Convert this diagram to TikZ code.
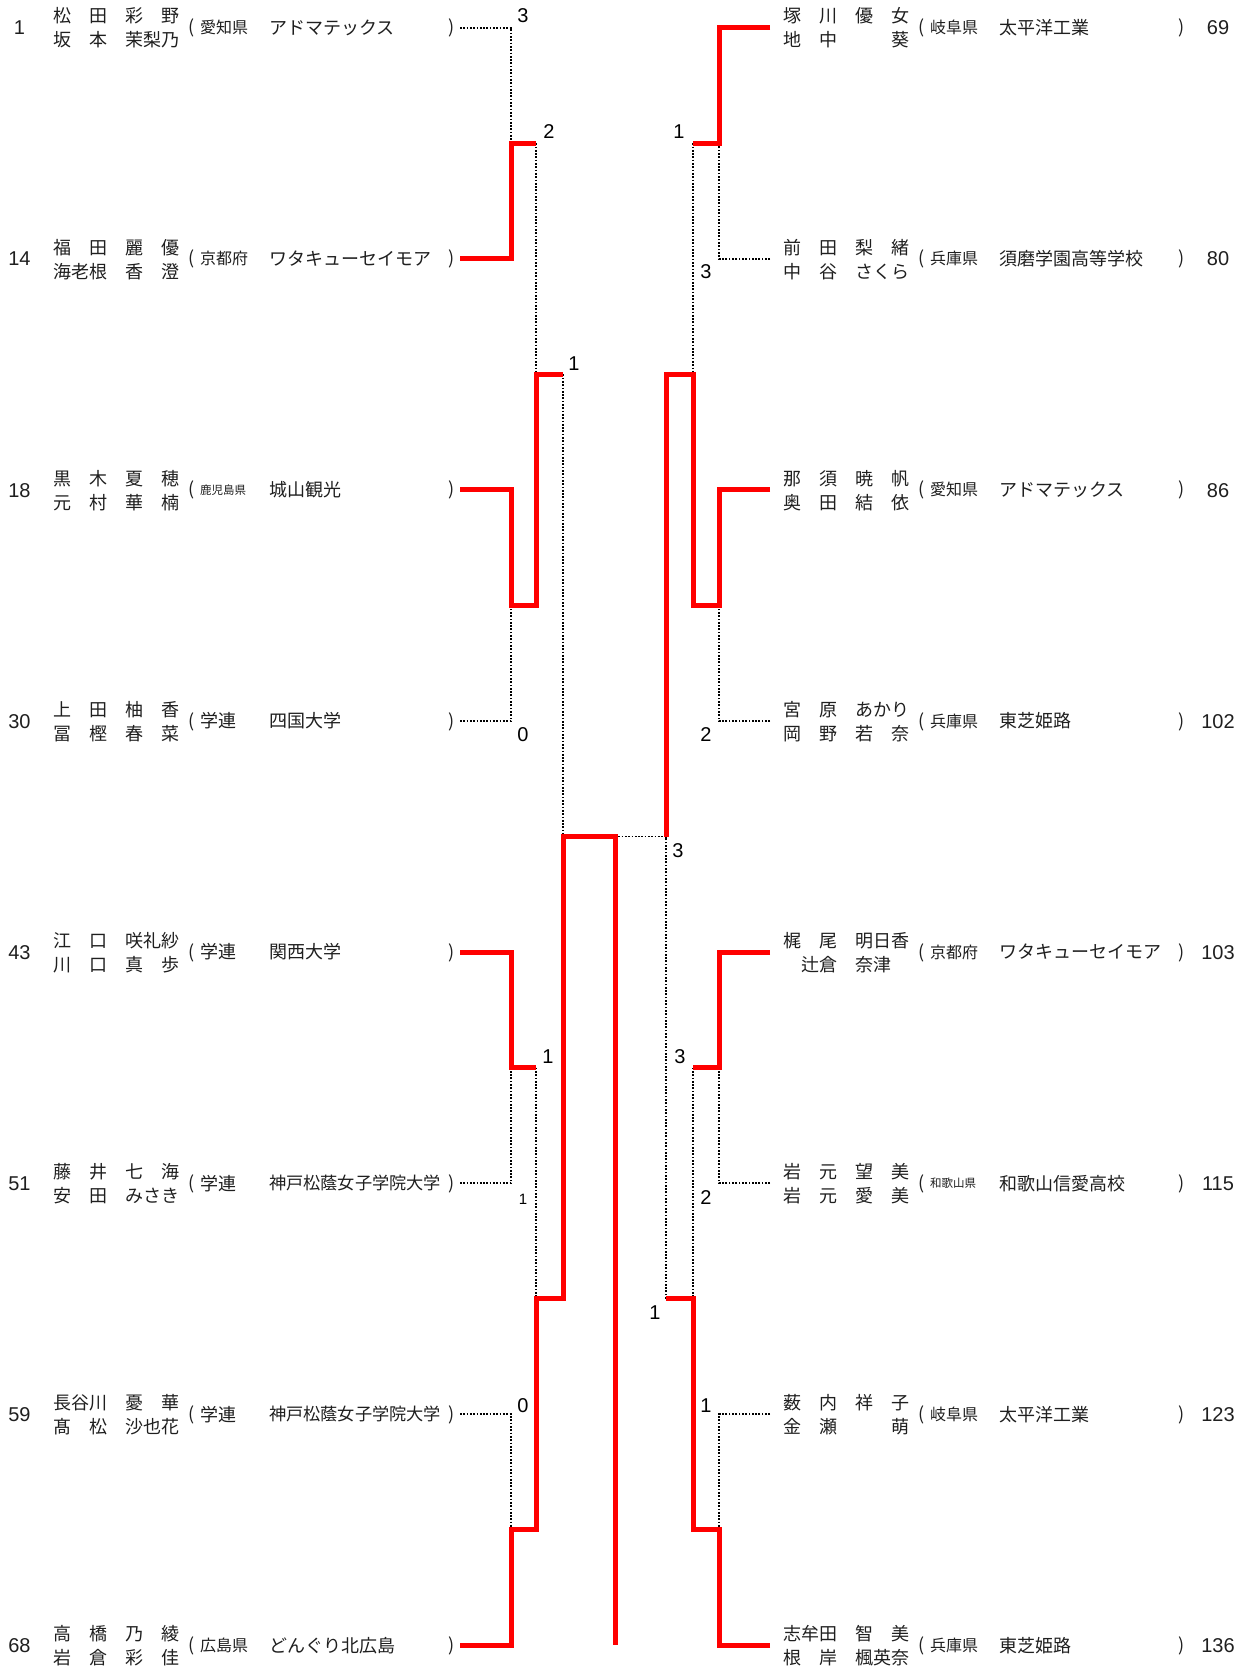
\documentclass[tikz,border=0pt]{standalone}
\usepackage{fontspec}
\newfontfamily\jp{Noto Sans CJK JP}
\newfontfamily\ar{Liberation Sans}
\newcommand\fs[1]{\fontsize{#1}{#1}\selectfont}
\tikzset{
 txt/.style={inner sep=0pt, outer sep=0pt, text=black!88},
 nm/.style={txt, anchor=base west, font=\jp\fs{18}},
 sc/.style={inner sep=0pt, outer sep=0pt, anchor=base, font=\ar\fs{20}},
 scs/.style={inner sep=0pt, outer sep=0pt, anchor=base, font=\ar\fs{15}},
 win/.style={draw=red, line width=5pt, line join=miter},
 los/.style={draw=black, line width=1.7pt, dash pattern=on 1.7pt off 1.6pt},
}
% #1 id, #2 x offset, #3 row y, #4 number x, #5 number, #6 line1, #7 line2, #8 pref size, #9 pref
\newcommand\ent[9]{%
 \node[txt,anchor=base,font=\ar\fs{20}] (#1num) at (#4,{#3+7.2}) {#5};
 \node[nm] (#1na) at ({#2+53},{#3-4.7}) {#6};
 \node[nm] (#1nb) at ({#2+53},{#3+19.3}) {#7};
 \node[txt,anchor=base,font=\jp\fs{18}] (#1po) at ({#2+192},{#3+6}) {(};
 \node[txt,anchor=base west,font=\jp\fs{#8}] (#1pr) at ({#2+200},{#3+0.38*#8}) {#9};
 \node[txt,anchor=base,font=\jp\fs{18}] (#1pc) at ({#2+452},{#3+6}) {)};
}
\newcommand\team[5]{%
 \node[txt,anchor=base west,font=\jp\fs{#4}] (#1tm) at ({#2+269},{#3+0.38*#4}) {#5};
}
\begin{document}
\begin{tikzpicture}[x=1pt,y=-1pt]
\fill[white] (0,0) rectangle (1248,1669);
\useasboundingbox (0,0) rectangle (1248,1669);

% ---------- entries left ----------
\ent{L0}{0}{27.7}{19.5}{1}{松　田　彩　野}{坂　本　茉梨乃}{16}{愛知県}
\team{L0}{0}{27.7}{18}{アドマテックス}
\ent{L1}{0}{258.8}{19.5}{14}{福　田　麗　優}{海老根　香　澄}{16}{京都府}
\team{L1}{0}{258.8}{18}{ワタキューセイモア}
\ent{L2}{0}{489.9}{19.5}{18}{黒　木　夏　穂}{元　村　華　楠}{11.5}{鹿児島県}
\team{L2}{0}{489.9}{18}{城山観光}
\ent{L3}{0}{721.0}{19.5}{30}{上　田　柚　香}{冨　樫　春　菜}{18}{学連}
\team{L3}{0}{721.0}{18}{四国大学}
\ent{L4}{0}{952.1}{19.5}{43}{江　口　咲礼紗}{川　口　真　歩}{18}{学連}
\team{L4}{0}{952.1}{18}{関西大学}
\ent{L5}{0}{1183.2}{19.5}{51}{藤　井　七　海}{安　田　みさき}{18}{学連}
\team{L5}{0}{1183.2}{17.2}{神戸松蔭女子学院大学}
\ent{L6}{0}{1414.3}{19.5}{59}{長谷川　憂　華}{髙　松　沙也花}{18}{学連}
\team{L6}{0}{1414.3}{17.2}{神戸松蔭女子学院大学}
\ent{L7}{0}{1645.4}{19.5}{68}{高　橋　乃　綾}{岩　倉　彩　佳}{16}{広島県}
\team{L7}{0}{1645.4}{18}{どんぐり北広島}

% ---------- entries right ----------
\ent{R0}{730}{27.7}{1218}{69}{塚　川　優　女}{地　中　　　葵}{16}{岐阜県}
\team{R0}{730}{27.7}{18}{太平洋工業}
\ent{R1}{730}{258.8}{1218}{80}{前　田　梨　緒}{中　谷　さくら}{16}{兵庫県}
\team{R1}{730}{258.8}{18}{須磨学園高等学校}
\ent{R2}{730}{489.9}{1218}{86}{那　須　暁　帆}{奥　田　結　依}{16}{愛知県}
\team{R2}{730}{489.9}{18}{アドマテックス}
\ent{R3}{730}{721.0}{1218}{102}{宮　原　あかり}{岡　野　若　奈}{16}{兵庫県}
\team{R3}{730}{721.0}{18}{東芝姫路}
\ent{R4}{730}{952.1}{1218}{103}{梶　尾　明日香}{　辻倉　奈津}{16}{京都府}
\team{R4}{730}{952.1}{18}{ワタキューセイモア}
\ent{R5}{730}{1183.2}{1218}{115}{岩　元　望　美}{岩　元　愛　美}{11.5}{和歌山県}
\team{R5}{730}{1183.2}{18}{和歌山信愛高校}
\ent{R6}{730}{1414.3}{1218}{123}{薮　内　祥　子}{金　瀬　　　萌}{16}{岐阜県}
\team{R6}{730}{1414.3}{18}{太平洋工業}
\ent{R7}{730}{1645.4}{1218}{136}{志牟田　智　美}{根　岸　楓英奈}{16}{兵庫県}
\team{R7}{730}{1645.4}{18}{東芝姫路}

% ---------- bracket coordinates ----------
\foreach \i/\y in {0/27.7,1/258.8,2/489.9,3/721.0,4/952.1,5/1183.2,6/1414.3,7/1645.4}{
  \coordinate (eL\i) at (460,\y);
  \coordinate (eR\i) at (770,\y);
}
\foreach \i/\y in {0/143.25,1/605.45,2/1067.65,3/1529.85}{
  \coordinate (aL\i) at (511,\y);
  \coordinate (bL\i) at (536,\y);
  \coordinate (aR\i) at (719,\y);
  \coordinate (bR\i) at (693,\y);
}
\foreach \i/\y in {0/374.35,1/1298.75}{
  \coordinate (cL\i) at (536,\y);
  \coordinate (dL\i) at (563,\y);
  \coordinate (cR\i) at (693,\y);
  \coordinate (dR\i) at (666,\y);
}
\coordinate (sL) at (563,836.55);
\coordinate (fL) at (615,836.55);
\coordinate (sR) at (666,836.55);
\coordinate (fb) at (615,1645.4);

% ---------- losers (dotted) ----------
\draw[los] (eL0) -| (aL0);
\draw[los] (eL3) -| (aL1);
\draw[los] (eL5) -| (aL2);
\draw[los] (eL6) -| (aL3);
\draw[los] (bL0) -- (cL0);
\draw[los] (bL2) -- (cL1);
\draw[los] (dL0) -- (sL);
\draw[los] (eR1) -| (aR0);
\draw[los] (eR3) -| (aR1);
\draw[los] (eR5) -| (aR2);
\draw[los] (eR6) -| (aR3);
\draw[los] (bR0) -- (cR0);
\draw[los] (bR2) -- (cR1);
\draw[los] (dR1) -- (sR);
\draw[los] (fL) -- (sR);

% ---------- winners (red) ----------
\draw[win] (eL1) -| (aL0) -- (bL0);
\draw[win] (eL2) -| (aL1) -- (bL1) -- (cL0) -- (dL0);
\draw[win] (eL4) -| (aL2) -- (bL2);
\draw[win] (eL7) -| (aL3) -- (bL3) -- (cL1) -- (dL1) -- (sL) -- (fL) -- (fb);
\draw[win] (eR0) -| (aR0) -- (bR0);
\draw[win] (eR2) -| (aR1) -- (bR1) -- (cR0) -- (dR0) -- (sR);
\draw[win] (eR4) -| (aR2) -- (bR2);
\draw[win] (eR7) -| (aR3) -- (bR3) -- (cR1) -- (dR1);

% ---------- scores ----------
\node[sc] (sc1) at (523,23) {3};
\node[sc] (sc2) at (549,139) {2};
\node[sc] (sc3) at (574,370) {1};
\node[sc] (sc4) at (523,741) {0};
\node[sc] (sc5) at (548,1063) {1};
\node[scs] (sc6) at (523,1204) {1};
\node[sc] (sc7) at (523,1412) {0};
\node[sc] (sc8) at (679,139) {1};
\node[sc] (sc9) at (706,279) {3};
\node[sc] (sc10) at (706,741) {2};
\node[sc] (sc11) at (678,857) {3};
\node[sc] (sc12) at (680,1063) {3};
\node[sc] (sc13) at (706,1204) {2};
\node[sc] (sc14) at (655,1319) {1};
\node[sc] (sc15) at (706,1412) {1};
\end{tikzpicture}
\end{document}
